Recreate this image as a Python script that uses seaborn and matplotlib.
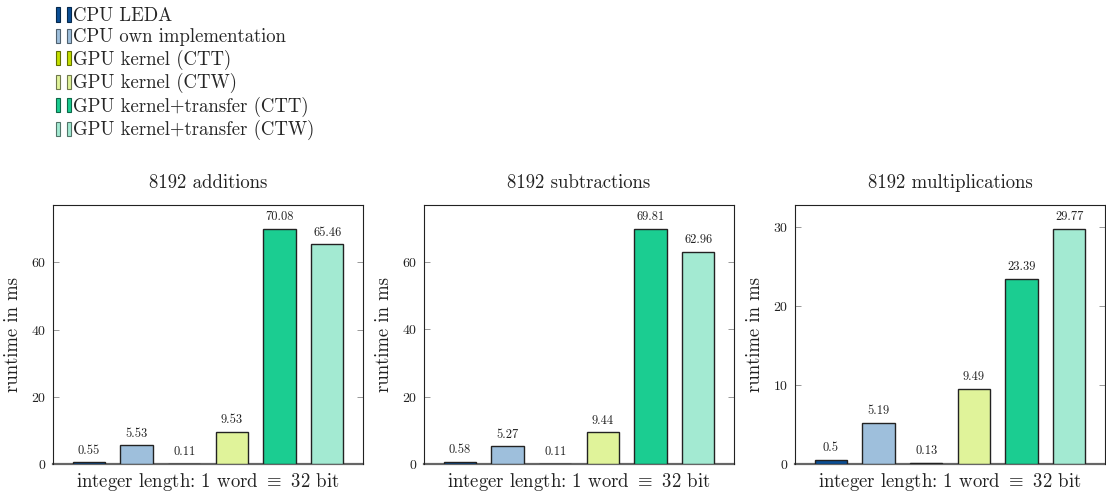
import matplotlib
matplotlib.use("Agg")
import matplotlib.pyplot as plt
from matplotlib.patches import Rectangle
from matplotlib.legend_handler import HandlerTuple
import seaborn as sns
import pandas as pd

# Runtime measurements (ms) for 8192 operations on 1-word (32 bit) integers
series = [
    "CPU LEDA",
    "CPU own implementation",
    "GPU kernel (CTT)",
    "GPU kernel (CTW)",
    "GPU kernel+transfer (CTT)",
    "GPU kernel+transfer (CTW)",
]
additions = [0.55, 5.53, 0.11, 9.53, 70.08, 65.46]
subtractions = [0.58, 5.27, 0.11, 9.44, 69.81, 62.96]
multiplications = [0.5, 5.19, 0.13, 9.49, 23.39, 29.77]
titles = ["8192 additions", "8192 subtractions", "8192 multiplications"]
yticks_sets = [[0, 20, 40, 60], [0, 20, 40, 60], [0, 10, 20, 30]]

colors = ["#0b4f96", "#9ebfdc", "#c4e000", "#e0f39a", "#1bcd91", "#a3ead2"]
edge_colors = ["#06284b", "#4f606e", "#627000", "#70794d", "#0e6748", "#527569"]

sns.set_theme(style="white")
plt.rcParams["font.family"] = ["cmr10", "DejaVu Serif"]
plt.rcParams["mathtext.fontset"] = "cm"
plt.rcParams["axes.formatter.use_mathtext"] = True

W, H = 1106, 498
fig = plt.figure(figsize=(W / 100, H / 100), dpi=100)

lefts = [53, 424, 795]
ax_w, top, bottom = 310, 205, 464
label_fs = 13.5

for left, vals, title, yt in zip(lefts, [additions, subtractions, multiplications],
                                 titles, yticks_sets):
    ax = fig.add_axes([left / W, 1 - bottom / H, ax_w / W, (bottom - top) / H])
    df = pd.DataFrame({"series": series, "runtime": vals})
    sns.barplot(data=df, x="series", y="runtime", hue="series", order=series,
                hue_order=series, palette=colors, saturation=1, width=0.68,
                legend=False, edgecolor="#222222", linewidth=1.0, ax=ax)
    for p in ax.patches:
        p.set_zorder(3)
    for cont in ax.containers:
        ax.bar_label(cont, fmt="%g", padding=4, fontsize=9, color="#222222")
    ax.set_xlim(-0.75, 5.75)
    ax.set_ylim(0, max(vals) * 1.1)
    ax.set_yticks(yt)
    ax.set_xticks([])
    ax.tick_params(axis="y", which="both", direction="in", length=4, width=0.6,
                   color="#888888", labelsize=10, left=True, right=True,
                   labelcolor="#222222", pad=5)
    for name, sp in ax.spines.items():
        sp.set_color("#222222")
        sp.set_linewidth(0.8)
    ax.spines["bottom"].set_color("#666666")
    ax.spines["bottom"].set_linewidth(1.6)
    ax.spines["bottom"].set_zorder(2)
    ax.set_title(title, fontsize=label_fs, pad=12, color="#222222")
    ax.set_xlabel(r"integer length: 1 word $\equiv$ 32 bit", fontsize=label_fs,
                  labelpad=5, color="#222222")
    ax.set_ylabel("runtime in ms", fontsize=label_fs, labelpad=6, color="#222222")

# Legend with paired bar glyphs, one pair per series
handles = []
for c, ec in zip(colors, edge_colors):
    h1 = Rectangle((0, 0), 1, 1, facecolor=c, edgecolor=ec, linewidth=0.8)
    h2 = Rectangle((0, 0), 1, 1, facecolor=c, edgecolor=ec, linewidth=0.8)
    handles.append((h1, h2))
fig.legend(handles, series, loc="upper left", bbox_to_anchor=(56 / W, 1 - 7 / H),
           frameon=False, fontsize=label_fs,
           handler_map={tuple: HandlerTuple(ndivide=None, pad=0.35)},
           handlelength=0.8, handleheight=0.8, handletextpad=0.12, labelspacing=0.18,
           borderaxespad=0, borderpad=0)

fig.savefig("out.png", dpi=100)
